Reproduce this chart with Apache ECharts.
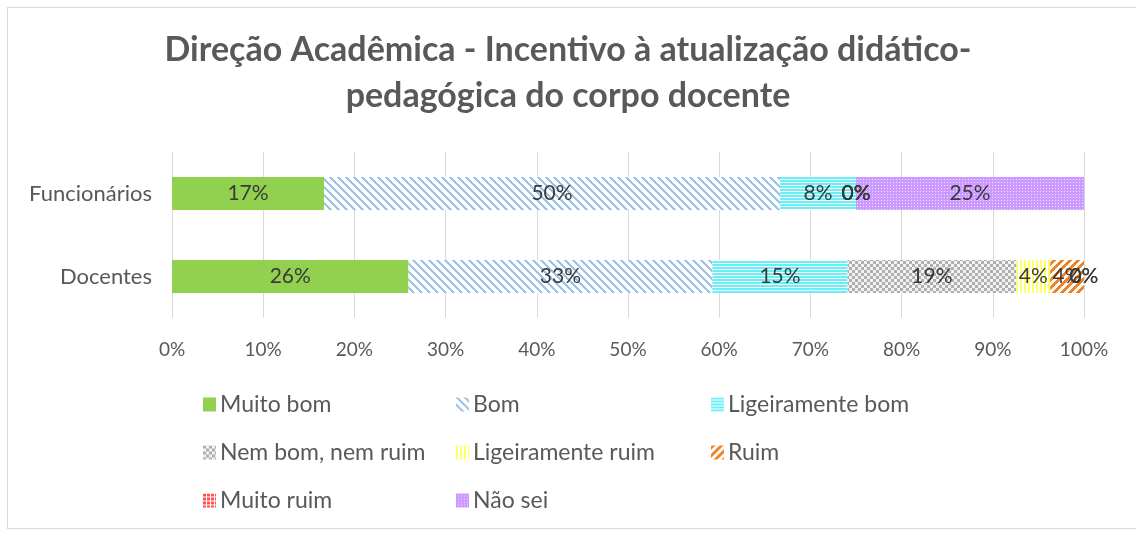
<!DOCTYPE html>
<html>
<head>
<meta charset="utf-8">
<script src="https://cdn.jsdelivr.net/npm/echarts@6/dist/echarts.min.js"></script>
<style>
  html, body { margin: 0; padding: 0; background: #ffffff; }
  #frame { position: absolute; left: 7px; top: 7px; width: 1140px; height: 522px; border: 1px solid #d9d9d9; box-sizing: border-box; }
  #chart { position: absolute; left: 0; top: 0; width: 1136px; height: 534px; }
</style>
</head>
<body>
<div id="frame"></div>
<div id="chart"></div>
<script>
// Survey groups (bottom to top on the category axis)
const categories = ['Docentes', 'Funcionários'];

// Answer options, in stacking order
const seriesNames = ['Muito bom', 'Bom', 'Ligeiramente bom', 'Nem bom, nem ruim',
                     'Ligeiramente ruim', 'Ruim', 'Muito ruim', 'Não sei'];

// Share of answers (%) per group: [Docentes, Funcionários]
const muitoBom        = [25.93, 16.67];
const bom             = [33.33, 50.00];
const ligeiramenteBom = [14.81, 8.33];
const nemBomNemRuim   = [18.52, 0];
const ligeiramenteRuim= [3.70, 0];
const ruim            = [3.70, 0];
const muitoRuim       = [0, 0];
const naoSei          = [0, 25.00];

const seriesValues = [muitoBom, bom, ligeiramenteBom, nemBomNemRuim,
                      ligeiramenteRuim, ruim, muitoRuim, naoSei];

const xTicks = [0, 10, 20, 30, 40, 50, 60, 70, 80, 90, 100];

// ---- fill patterns ----
function tile(w, h, bg, fg, test) {
  const c = document.createElement('canvas');
  c.width = w; c.height = h;
  const g = c.getContext('2d');
  g.fillStyle = bg; g.fillRect(0, 0, w, h);
  g.fillStyle = fg;
  for (let y = 0; y < h; y++) for (let x = 0; x < w; x++) if (test(x, y)) g.fillRect(x, y, 1, 1);
  return { image: c, repeat: 'repeat' };
}
const fills = [
  '#92d050',
  tile(8, 8, '#ffffff', '#9dc3e6', (x, y) => ((x - y + 16) % 8) < 3),          // downward diagonal
  tile(4, 3, '#ffffff', '#66f0f8', (x, y) => y !== 2),                          // horizontal lines
  tile(6, 6, '#f2f2f2', '#b0b0b0', (x, y) => ((Math.floor(x / 3) + Math.floor(y / 3)) % 2) === 0), // checker
  tile(4, 4, '#ffffff', '#ffff66', (x, y) => x < 2),                            // vertical lines
  tile(8, 8, '#ffffff', '#f58220', (x, y) => ((x + y) % 8) < 4),                // upward diagonal
  tile(4, 4, '#ffffff', '#ff4d4d', (x, y) => !(x === 3 || y === 3)),            // small grid
  tile(3, 3, '#cc99ff', '#f0e0ff', (x, y) => x === 2 && y === 2)                 // dotted
];

const textColor = '#595959';
const fontFam = 'Lato, "Open Sans", sans-serif';

const series = seriesNames.map((name, i) => ({
  name: name,
  type: 'bar',
  stack: 'total',
  barWidth: 33,
  data: seriesValues[i],
  itemStyle: { color: fills[i] },
  label: {
    show: true,
    position: 'inside',
    color: '#3a3a3a',
    fontSize: 21,
    fontFamily: fontFam,
    formatter: p => Math.round(p.value) + '%'
  },
  emphasis: { disabled: true }
}));

// Legend laid out as a 3-column grid
const legendCols = [203, 456, 711];
const legendRows = [393, 441, 489];
const legends = seriesNames.map((name, i) => ({
  data: [name],
  left: legendCols[i % 3],
  top: legendRows[Math.floor(i / 3)],
  padding: 0,
  icon: 'rect',
  itemWidth: 13,
  itemHeight: 14,
  itemGap: 0,
  selectedMode: false,
  textStyle: { color: textColor, fontSize: 23, fontFamily: fontFam, padding: [0, 0, 0, -1] }
}));

const chart = echarts.init(document.getElementById('chart'), null, { renderer: 'canvas' });
chart.setOption({
  animation: false,
  backgroundColor: 'transparent',
  title: {
    text: 'Direção Acadêmica - Incentivo à atualização didático-\npedagógica do corpo docente',
    left: 'center',
    top: 27,
    padding: 0,
    textStyle: { color: textColor, fontSize: 34, fontWeight: 'bold', fontFamily: fontFam, lineHeight: 46 }
  },
  legend: legends,
  grid: { left: 172, right: 52, top: 152, bottom: 216 },
  xAxis: {
    type: 'value',
    min: 0,
    max: 100,
    interval: 10,
    axisLine: { show: false },
    axisTick: { show: false },
    splitLine: { lineStyle: { color: '#d9d9d9', width: 1 } },
    axisLabel: {
      color: textColor, fontSize: 19, fontFamily: fontFam, margin: 22,
      formatter: v => xTicks.includes(v) ? v + '%' : ''
    }
  },
  yAxis: {
    type: 'category',
    data: categories,
    axisLine: { show: false },
    axisTick: { show: false },
    axisLabel: { color: textColor, fontSize: 22, fontFamily: fontFam, margin: 20 }
  },
  series: series
});
</script>
</body>
</html>
